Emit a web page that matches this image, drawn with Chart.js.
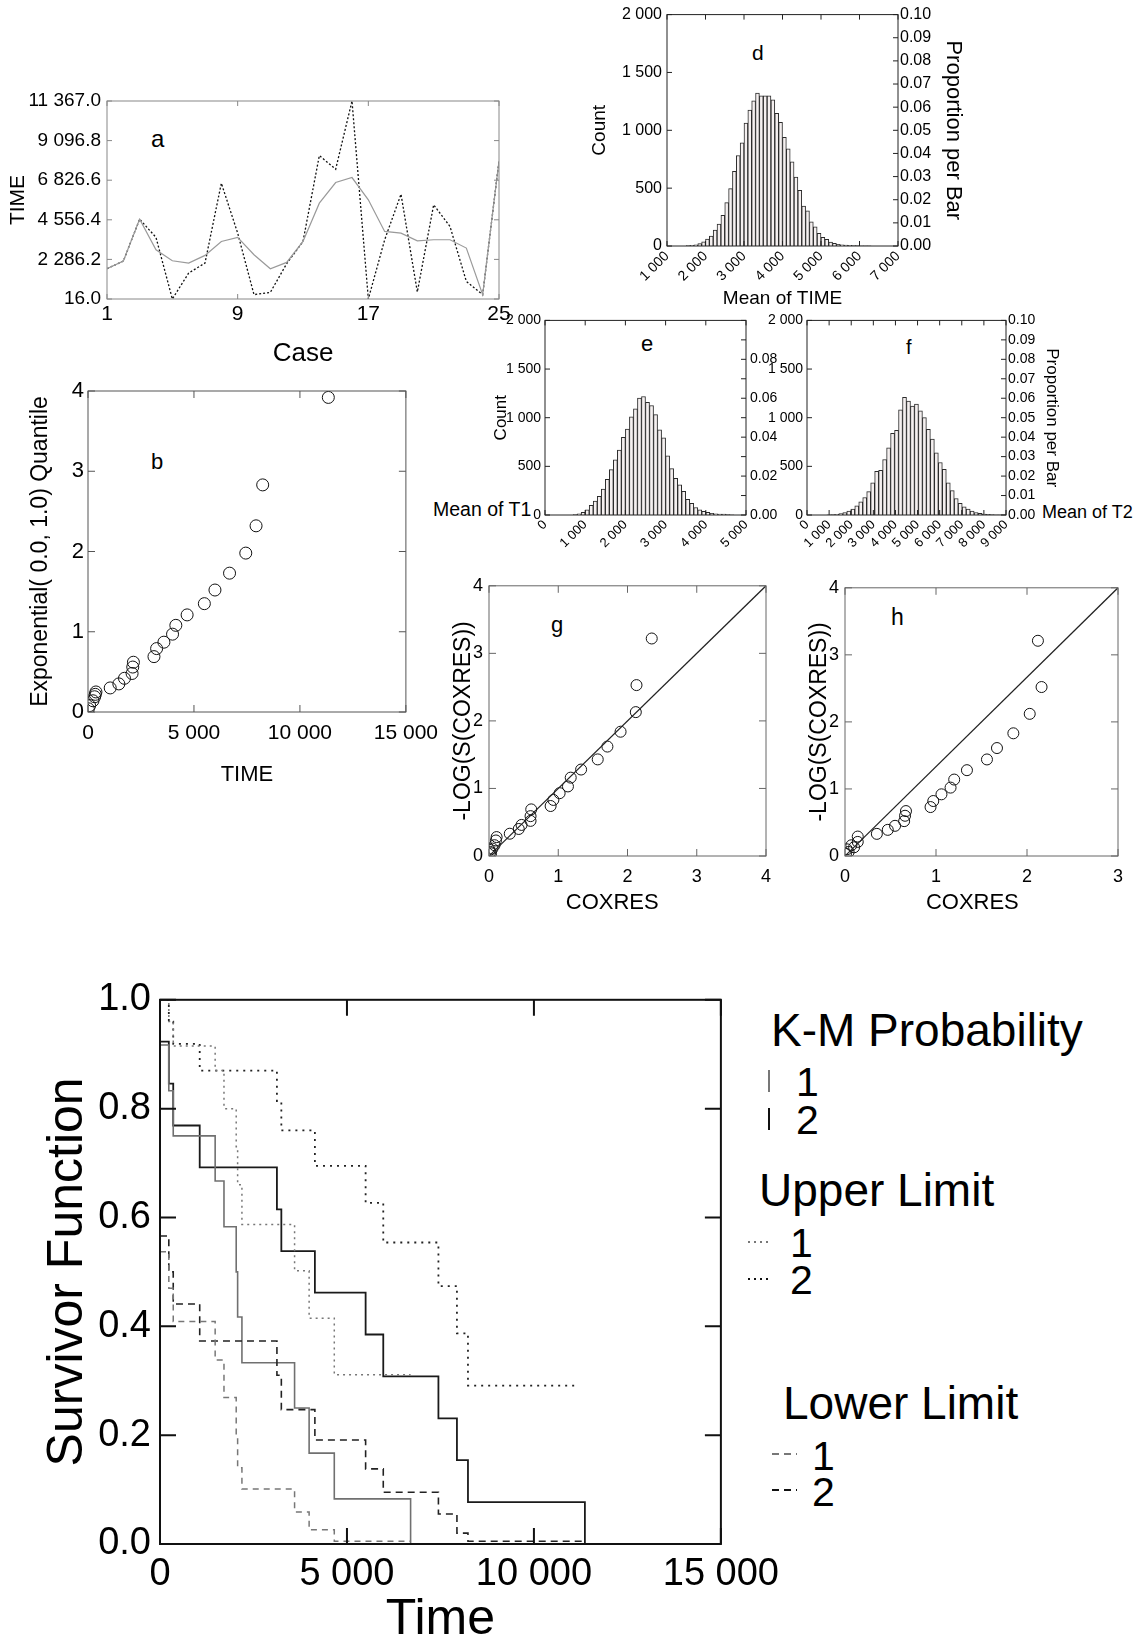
<!DOCTYPE html>
<html>
<head>
<meta charset="utf-8">
<script src="https://cdn.jsdelivr.net/npm/chart.js@4.4.0/dist/chart.umd.min.js"></script>
<style>
  html, body { margin: 0; padding: 0; background: #fff; }
  body { position: relative; width: 1139px; height: 1642px; overflow: hidden; font-family: "Liberation Sans", Arial, sans-serif; }
  canvas { position: absolute; }
  .txt { position: absolute; line-height: 1; white-space: nowrap; color: #000; }
  .sym { position: absolute; }
</style>
</head>
<body>
<!-- panel letters -->
<div class="txt" style="left:151px;top:127px;font-size:24px">a</div>
<div class="txt" style="left:151px;top:451px;font-size:22px">b</div>
<div class="txt" style="left:752px;top:42px;font-size:21px">d</div>
<div class="txt" style="left:641px;top:333px;font-size:22px">e</div>
<div class="txt" style="left:906px;top:337px;font-size:20px">f</div>
<div class="txt" style="left:551px;top:614px;font-size:22px">g</div>
<div class="txt" style="left:891px;top:606px;font-size:23px">h</div>
<div class="txt" style="left:433px;top:500px;font-size:19.5px">Mean of T1</div>
<div class="txt" style="left:1042px;top:503px;font-size:18px">Mean of T2</div>

<!-- K-M legend -->
<div class="txt" style="left:771px;top:1007px;font-size:46px">K-M Probability</div>
<div class="sym" style="left:768px;top:1070px;width:2px;height:22px;background:#777"></div>
<div class="txt" style="left:796px;top:1062px;font-size:41px">1</div>
<div class="sym" style="left:768px;top:1108px;width:2px;height:22px;background:#111"></div>
<div class="txt" style="left:796px;top:1100px;font-size:41px">2</div>
<div class="txt" style="left:759px;top:1167px;font-size:46px">Upper Limit</div>
<div class="sym" style="left:748px;top:1241px;width:22px;height:1.5px;background:repeating-linear-gradient(90deg,#777 0 2px,transparent 2px 6px)"></div>
<div class="txt" style="left:790px;top:1223px;font-size:41px">1</div>
<div class="sym" style="left:748px;top:1278px;width:22px;height:1.5px;background:repeating-linear-gradient(90deg,#111 0 2px,transparent 2px 6px)"></div>
<div class="txt" style="left:790px;top:1260px;font-size:41px">2</div>
<div class="txt" style="left:783px;top:1380px;font-size:46px">Lower Limit</div>
<div class="sym" style="left:772px;top:1453px;width:25px;height:1.5px;background:repeating-linear-gradient(90deg,#777 0 7px,transparent 7px 12px)"></div>
<div class="txt" style="left:812px;top:1436px;font-size:41px">1</div>
<div class="sym" style="left:772px;top:1489px;width:25px;height:1.5px;background:repeating-linear-gradient(90deg,#111 0 7px,transparent 7px 12px)"></div>
<div class="txt" style="left:812px;top:1472px;font-size:41px">2</div>

<script>
// ---- a: TIME by case ----
const caseNo = [1, 2, 3, 4, 5, 6, 7, 8, 9, 10, 11, 12, 13, 14, 15, 16, 17, 18, 19, 20, 21, 22, 23, 24, 25];
const caseTime = [1752, 2191, 4594, 3545, 16, 1504, 2076, 6655, 3793, 264, 397, 2038, 3316, 8238, 7456, 11367, 16, 3412, 6025, 417, 5415, 4175, 1027, 264, 7933];
const caseSmooth = [1752, 2191, 4594, 2839, 2210, 2076, 2515, 3316, 3545, 2553, 1752, 2114, 3316, 5510, 6693, 6979, 5701, 3889, 3793, 3354, 3412, 3412, 2935, 264, 7933];
const aTicksX = [1, 9, 17, 25];
const aTicksY = [16.0, 2286.2, 4556.4, 6826.6, 9096.8, 11367.0];

// ---- b: exponential quantile plot ----
const bTime = [11340, 8243, 7930, 7445, 6679, 5991, 5490, 4677, 4145, 3989, 3582, 3238, 3113, 2143, 2112, 2080, 1721, 1455, 1048, 375, 344, 313, 235, 78, 16];
const bQuant = [3.92, 2.83, 2.32, 1.98, 1.73, 1.52, 1.35, 1.21, 1.08, 0.97, 0.87, 0.79, 0.69, 0.62, 0.56, 0.48, 0.42, 0.35, 0.30, 0.25, 0.22, 0.19, 0.14, 0.08, 0.04];
const bTicksX = [0, 5000, 10000, 15000];
const bTicksY = [0, 1, 2, 3, 4];

// ---- d, e, f: bootstrap histograms (counts per bin) ----
const dBinStart = 1500, dBinWidth = 100;
const dCounts = [4, 6, 10, 20, 37, 60, 86, 137, 189, 266, 375, 496, 645, 782, 891, 1063, 1175, 1255, 1321, 1298, 1298, 1298, 1264, 1146, 1069, 940, 840, 728, 596, 481, 344, 304, 209, 166, 109, 74, 57, 34, 23, 14, 11, 8, 6, 4, 3, 2, 2, 1];
const dTicksX = [1000, 2000, 3000, 4000, 5000, 6000, 7000];
const eBinStart = 700, eBinWidth = 100;
const eCounts = [5, 12, 27, 53, 100, 143, 193, 266, 366, 466, 566, 666, 799, 882, 1008, 1091, 1201, 1218, 1158, 1125, 1032, 875, 792, 609, 476, 376, 309, 243, 160, 120, 77, 53, 37, 27, 17, 13, 10, 10, 5, 3];
const eTicksX = [0, 1000, 2000, 3000, 4000, 5000];
const fBinStart = 900, fBinWidth = 180;
const fCounts = [2, 4, 8, 14, 24, 40, 62, 95, 135, 180, 240, 330, 450, 460, 570, 690, 840, 870, 1080, 1210, 1170, 1120, 1140, 1070, 1000, 880, 780, 640, 540, 470, 330, 250, 170, 120, 85, 60, 40, 26, 16, 10, 6, 4, 3, 2, 2];
const fTicksX = [0, 1000, 2000, 3000, 4000, 5000, 6000, 7000, 8000, 9000];
const countTicks = [0, 500, 1000, 1500, 2000];
const propTicks = [0, 0.01, 0.02, 0.03, 0.04, 0.05, 0.06, 0.07, 0.08, 0.09, 0.10];
const propTicksE = [0, 0.02, 0.04, 0.06, 0.08];

// ---- g, h: Cox-Snell residual plots ----
const gX = [2.35, 2.13, 2.12, 1.90, 1.71, 1.57, 1.33, 1.18, 1.14, 1.02, 0.93, 0.89, 0.61, 0.60, 0.60, 0.47, 0.43, 0.30, 0.11, 0.10, 0.08, 0.05, 0.02, 0.03, 0.01];
const gY = [3.22, 2.53, 2.13, 1.84, 1.62, 1.43, 1.28, 1.16, 1.03, 0.93, 0.83, 0.74, 0.69, 0.59, 0.52, 0.46, 0.40, 0.33, 0.28, 0.23, 0.16, 0.11, 0.06, 0.04, 0.09];
const gLineX = [0, 4], gLineY = [0, 4];
const hX = [2.12, 2.16, 2.03, 1.85, 1.67, 1.56, 1.34, 1.20, 1.16, 1.06, 0.97, 0.94, 0.67, 0.66, 0.65, 0.55, 0.47, 0.35, 0.14, 0.14, 0.10, 0.07, 0.02, 0.01, 0.04];
const hY = [3.21, 2.52, 2.12, 1.83, 1.61, 1.44, 1.28, 1.14, 1.02, 0.92, 0.82, 0.73, 0.67, 0.60, 0.52, 0.45, 0.39, 0.33, 0.29, 0.21, 0.13, 0.16, 0.10, 0.03, 0.06];
const hLineX = [0, 3], hLineY = [0, 4];
const coxTicks4 = [0, 1, 2, 3, 4];
const coxTicks3 = [0, 1, 2, 3];

// ---- K-M survivor function ----
const km1Time = [0, 236, 354, 1475, 1711, 2038, 2076, 2191, 3599, 3988, 4661, 6702];
const km1Surv = [0.917, 0.833, 0.75, 0.667, 0.583, 0.5, 0.417, 0.333, 0.25, 0.167, 0.083, 0];
const km2Time = [0, 236, 354, 1062, 3127, 3245, 4142, 5499, 5971, 7446, 7941, 8236, 11363];
const km2Surv = [0.923, 0.846, 0.769, 0.692, 0.615, 0.538, 0.462, 0.385, 0.308, 0.231, 0.154, 0.077, 0];
const up1Surv = [1.0, 0.96, 0.915, 0.87, 0.80, 0.73, 0.66, 0.587, 0.502, 0.415, 0.311, 0.311];
const up2Time = [0, 236, 354, 1062, 3127, 3245, 4142, 5499, 5971, 7446, 7941, 8236, 11190];
const up2Surv = [1.0, 0.96, 0.919, 0.870, 0.814, 0.760, 0.695, 0.627, 0.554, 0.474, 0.387, 0.291, 0.291];
const lo1Surv = [0.537, 0.47, 0.409, 0.338, 0.269, 0.20, 0.14, 0.101, 0.059, 0.026, 0.005, 0.005];
const lo2Surv = [0.566, 0.50, 0.441, 0.373, 0.31, 0.247, 0.191, 0.138, 0.095, 0.055, 0.020, 0.005, 0.005];
const kmTicksX = [0, 5000, 10000, 15000];
const kmTicksY = [0, 0.2, 0.4, 0.6, 0.8, 1.0];

Chart.defaults.font.family = '"Liberation Sans", Arial, sans-serif';
Chart.defaults.color = '#000';

// number with space as thousands separator ("11 367.0")
function spaced(v, dec) {
  const parts = Math.abs(v).toFixed(dec || 0).split('.');
  parts[0] = parts[0].replace(/\B(?=(\d{3})+(?!\d))/g, ' ');
  return (v < 0 ? '-' : '') + parts.join('.');
}
const pairs = (xs, ys) => xs.map((x, i) => ({ x: x, y: ys[i] }));
const bins = (start, width, counts) => counts.map((c, i) => ({ x: start + (i + 0.5) * width, y: c }));

// frame round the plot and short ticks pointing inwards (Systat style)
const frameTicks = {
  id: 'frameTicks',
  afterDatasetsDraw(chart, args, o) {
    if (!o || !o.color) return;
    const { ctx, chartArea: a, scales } = chart;
    ctx.save();
    ctx.strokeStyle = o.color;
    ctx.lineWidth = o.width;
    ctx.beginPath();
    (o.xVals || []).forEach(v => {
      const p = scales.x.getPixelForValue(v);
      ctx.moveTo(p, a.bottom); ctx.lineTo(p, a.bottom - o.len);
      ctx.moveTo(p, a.top); ctx.lineTo(p, a.top + o.len);
    });
    (o.lVals || []).forEach(v => {
      const p = scales.y.getPixelForValue(v);
      ctx.moveTo(a.left, p); ctx.lineTo(a.left + o.len, p);
    });
    const rs = scales[o.rScale || 'y'];
    (o.rVals || []).forEach(v => {
      const p = rs.getPixelForValue(v);
      ctx.moveTo(a.right, p); ctx.lineTo(a.right - o.len, p);
    });
    ctx.stroke();
    ctx.strokeRect(a.left, a.top, a.right - a.left, a.bottom - a.top);
    ctx.restore();
  }
};
Chart.register(frameTicks);

function axis(o) {
  return {
    type: 'linear', position: o.pos, min: o.min, max: o.max, offset: false,
    grid: { display: false, drawTicks: false },
    border: { display: false },
    afterBuildTicks: s => { s.ticks = o.ticks.map(v => ({ value: v })); },
    ticks: {
      autoSkip: false, padding: o.pad, font: { size: o.size },
      maxRotation: o.rot || 0, minRotation: o.rot || 0,
      callback: o.fmt || (v => spaced(v, 0))
    },
    title: o.title ? { display: true, text: o.title, font: { size: o.tsize }, padding: o.tpad } : { display: false }
  };
}

// g = plot area in page pixels plus margins for the axes
function makePanel(g, cfg) {
  const c = document.createElement('canvas');
  c.width = g.ml + g.w + g.mr;
  c.height = g.mt + g.h + g.mb;
  c.style.left = (g.x - g.ml) + 'px';
  c.style.top = (g.y - g.mt) + 'px';
  document.body.appendChild(c);
  const sc = cfg.options.scales;
  sc.x.afterFit = s => { s.height = g.mb; };
  sc.y.afterFit = s => { s.width = g.ml; };
  if (sc.y2) sc.y2.afterFit = s => { s.width = g.mr; };
  cfg.options.responsive = false;
  cfg.options.animation = false;
  cfg.options.devicePixelRatio = 1;
  cfg.options.layout = { autoPadding: false, padding: { left: 0, top: g.mt, right: sc.y2 ? 0 : g.mr, bottom: 0 } };
  cfg.options.plugins = Object.assign({ legend: { display: false }, tooltip: { enabled: false } }, cfg.options.plugins);
  return new Chart(c, cfg);
}

// a
makePanel({ x: 107, y: 101, w: 392, h: 198, ml: 107, mt: 20, mr: 22, mb: 70 }, {
  type: 'line',
  data: { datasets: [
    { data: pairs(caseNo, caseSmooth), borderColor: '#9a9a9a', borderWidth: 1.2, pointRadius: 0 },
    { data: pairs(caseNo, caseTime), borderColor: '#111', borderWidth: 1.3, borderDash: [2, 2], pointRadius: 0 }
  ] },
  options: {
    scales: {
      x: axis({ pos: 'bottom', min: 1, max: 25, ticks: aTicksX, pad: 3, size: 21, title: 'Case', tsize: 26, tpad: { top: 0, bottom: 0 } }),
      y: axis({ pos: 'left', min: 16, max: 11367, ticks: aTicksY, pad: 6, size: 19, fmt: v => spaced(v, 1), title: 'TIME', tsize: 21, tpad: { top: 6 } })
    },
    plugins: { frameTicks: { color: '#888', width: 1, len: 5, xVals: aTicksX, lVals: aTicksY, rVals: aTicksY } }
  }
});

// b
makePanel({ x: 88, y: 391, w: 319, h: 321, ml: 88, mt: 20, mr: 40, mb: 80 }, {
  type: 'scatter',
  data: { datasets: [
    { data: pairs(bTime, bQuant), pointRadius: 6, borderColor: '#111', borderWidth: 1, backgroundColor: 'rgba(0,0,0,0)' }
  ] },
  options: {
    scales: {
      x: axis({ pos: 'bottom', min: 0, max: 15000, ticks: bTicksX, pad: 9, size: 21, title: 'TIME', tsize: 22, tpad: { top: 0, bottom: 4 } }),
      y: axis({ pos: 'left', min: 0, max: 4, ticks: bTicksY, pad: 4, size: 22, title: 'Exponential( 0.0, 1.0) Quantile', tsize: 23, tpad: { top: 27 } })
    },
    plugins: { frameTicks: { color: '#555', width: 1, len: 7, xVals: bTicksX, lVals: bTicksY, rVals: bTicksY } }
  }
});

function histogram(g, start, width, counts, xMin, xMax, xTicks, o) {
  return makePanel(g, {
    type: 'bar',
    data: { datasets: [
      { data: bins(start, width, counts), backgroundColor: '#f5f0f0', borderColor: '#2a2a2a', borderWidth: 1, barPercentage: 1, categoryPercentage: 1 }
    ] },
    options: {
      scales: {
        x: axis({ pos: 'bottom', min: xMin, max: xMax, ticks: xTicks, pad: 2, size: o.xSize, rot: 45, title: o.xTitle, tsize: 19, tpad: { top: 0, bottom: 1.6 } }),
        y: axis({ pos: 'left', min: 0, max: 2000, ticks: countTicks, pad: o.yPad, size: o.ySize, title: o.yTitle, tsize: o.yTSize, tpad: { top: o.yTPad } }),
        y2: axis({ pos: 'right', min: 0, max: 0.1, ticks: o.propLabels, pad: o.rPad, size: o.rSize, fmt: v => v.toFixed(2), title: o.rTitle, tsize: o.rTSize, tpad: { top: o.rTPad } })
      },
      plugins: { frameTicks: { color: '#222', width: 1, len: 5, xVals: xTicks, lVals: countTicks, rScale: 'y2', rVals: propTicks } }
    }
  });
}

// d
histogram({ x: 667, y: 13, w: 231, h: 233, ml: 87, mt: 13, mr: 80, mb: 66 }, dBinStart, dBinWidth, dCounts, 1000, 7000, dTicksX,
  { xSize: 14, xTitle: 'Mean of TIME', yPad: 5, ySize: 16, yTitle: 'Count', yTSize: 19, yTPad: 8.6,
    propLabels: propTicks, rPad: 2, rSize: 16, rTitle: 'Proportion per Bar', rTSize: 22, rTPad: 11.8 });
// e
histogram({ x: 545, y: 316, w: 201, h: 199, ml: 65, mt: 8, mr: 40, mb: 45 }, eBinStart, eBinWidth, eCounts, 0, 5000, eTicksX,
  { xSize: 13, xTitle: null, yPad: 4, ySize: 14, yTitle: 'Count', yTSize: 17, yTPad: 10.8,
    propLabels: propTicksE, rPad: 4, rSize: 14, rTitle: null });
// f
histogram({ x: 807, y: 316, w: 199, h: 199, ml: 45, mt: 8, mr: 60, mb: 45 }, fBinStart, fBinWidth, fCounts, 0, 9000, fTicksX,
  { xSize: 13, xTitle: null, yPad: 4, ySize: 14, yTitle: null,
    propLabels: propTicks, rPad: 2, rSize: 14, rTitle: 'Proportion per Bar', rTSize: 17, rTPad: 3.8 });

function coxPlot(g, xs, ys, lx, ly, xMax, xTicks, xTitle, yTPad) {
  return makePanel(g, {
    type: 'scatter',
    data: { datasets: [
      { data: pairs(lx, ly), showLine: true, borderColor: '#222', borderWidth: 1.2, pointRadius: 0 },
      { data: pairs(xs, ys), pointRadius: 5.5, borderColor: '#111', borderWidth: 1, backgroundColor: 'rgba(0,0,0,0)' }
    ] },
    options: {
      scales: {
        x: axis({ pos: 'bottom', min: 0, max: xMax, ticks: xTicks, pad: 10, size: 18, title: xTitle, tsize: 22, tpad: { top: 0, bottom: 0 } }),
        y: axis({ pos: 'left', min: 0, max: 4, ticks: coxTicks4, pad: 6, size: 18, title: '-LOG(S(COXRES))', tsize: 23, tpad: { top: yTPad } })
      },
      plugins: { frameTicks: { color: '#666', width: 1, len: 7, xVals: xTicks, lVals: coxTicks4, rVals: coxTicks4 } }
    }
  });
}
// trailing spaces move the axis title a little left, as in the original
coxPlot({ x: 489, y: 579, w: 277, h: 277, ml: 49, mt: 10, mr: 20, mb: 60 }, gX, gY, gLineX, gLineY, 4, coxTicks4, 'COXRES     ', 10.2);
coxPlot({ x: 845, y: 581, w: 273, h: 275, ml: 50, mt: 10, mr: 20, mb: 60 }, hX, hY, hLineX, hLineY, 3, coxTicks3, 'COXRES   ', 11.2);

// K-M survivor function
const step = (t, s, color, w, dash) => ({ data: pairs(t, s), stepped: 'before', borderColor: color, borderWidth: w, borderDash: dash, pointRadius: 0 });
makePanel({ x: 160, y: 998, w: 567, h: 546, ml: 160, mt: 30, mr: 60, mb: 106 }, {
  type: 'line',
  data: { datasets: [
    step(km1Time, up1Surv, '#777', 1.5, [2, 4]),
    step(up2Time, up2Surv, '#222', 1.8, [2, 5]),
    step(km1Time, lo1Surv, '#777', 1.5, [6, 5]),
    step(km2Time, lo2Surv, '#222', 1.6, [7, 5]),
    step(km1Time, km1Surv, '#707070', 1.6, []),
    step(km2Time, km2Surv, '#1a1a1a', 1.8, [])
  ] },
  options: {
    scales: {
      x: axis({ pos: 'bottom', min: 0, max: 15000, ticks: kmTicksX, pad: 8, size: 38, title: 'Time', tsize: 50, tpad: { top: 0, bottom: 0 } }),
      y: axis({ pos: 'left', min: 0, max: 1, ticks: kmTicksY, pad: 9, size: 38, fmt: v => v.toFixed(1), title: 'Survivor Function', tsize: 50, tpad: { top: 38 } })
    },
    plugins: { frameTicks: { color: '#111', width: 2, len: 16, xVals: kmTicksX, lVals: kmTicksY, rVals: kmTicksY } }
  }
});
</script>
</body>
</html>
